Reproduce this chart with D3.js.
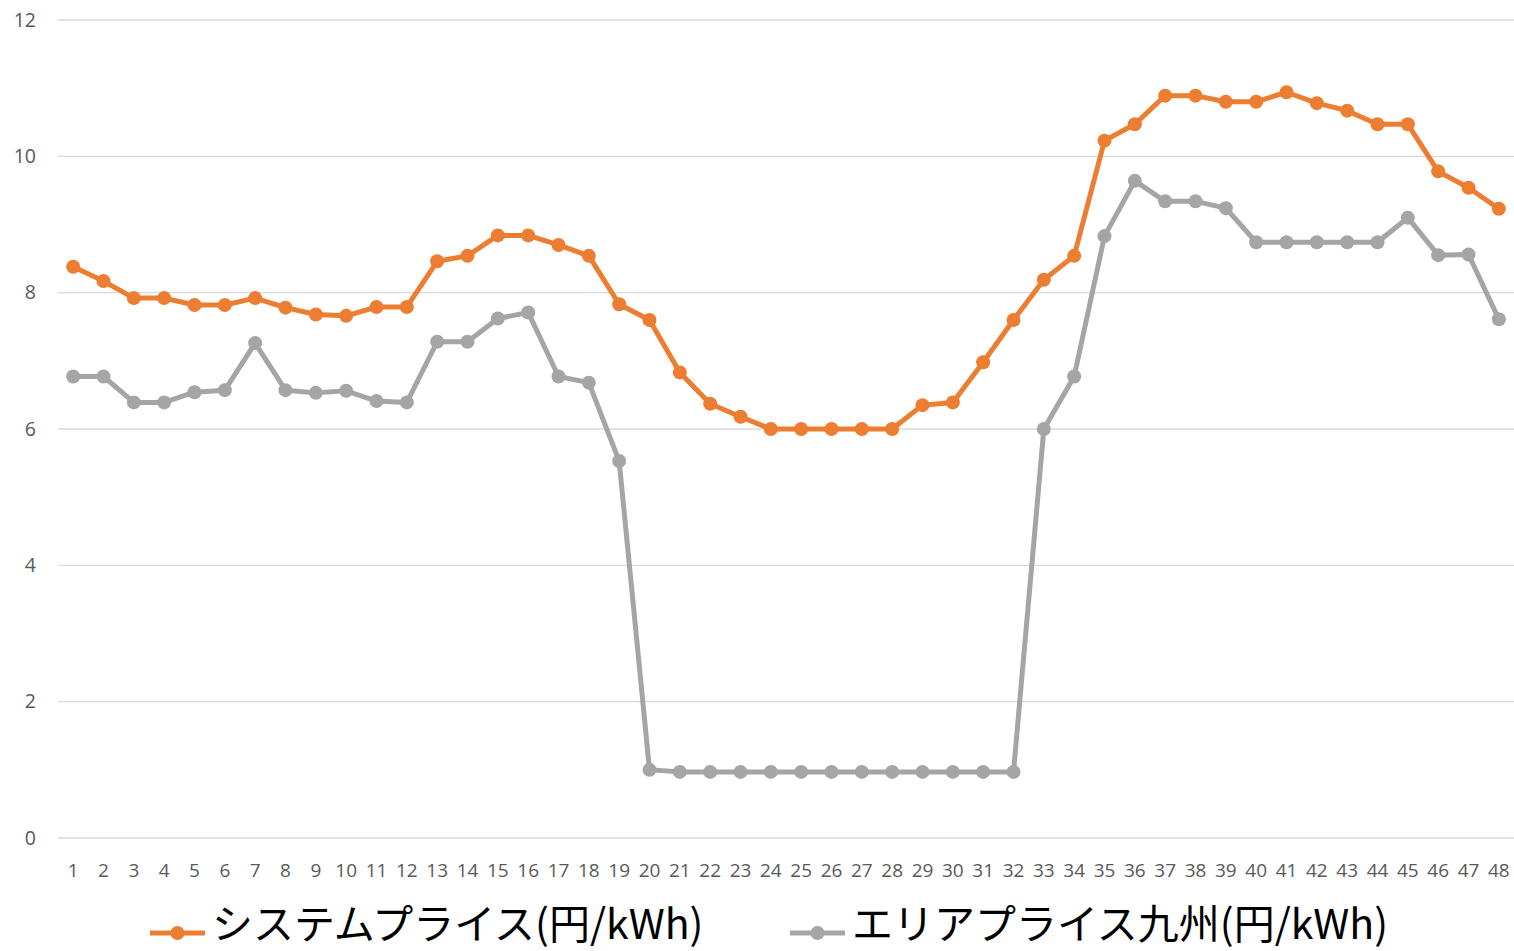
<!DOCTYPE html>
<html><head><meta charset="utf-8">
<script src="https://cdn.jsdelivr.net/npm/d3@7/dist/d3.min.js"></script>
<style>body{margin:0;background:#fff;overflow:hidden}</style>
</head><body>
<svg id="c" width="1514" height="951"></svg>
<script>
const periods = d3.range(1, 49).map(String);
const systemPrice = [8.38,8.17,7.92,7.92,7.82,7.82,7.92,7.78,7.68,7.66,7.79,7.79,
  8.46,8.54,8.84,8.84,8.70,8.54,7.83,7.60,6.83,6.37,6.18,6.00,6.00,6.00,6.00,6.00,
  6.35,6.39,6.98,7.60,8.19,8.54,10.23,10.47,10.89,10.89,10.80,10.80,10.94,10.78,
  10.67,10.47,10.47,9.78,9.54,9.23];
const areaPrice = [6.77,6.77,6.39,6.39,6.54,6.57,7.26,6.57,6.53,6.56,6.41,6.39,
  7.28,7.28,7.62,7.71,6.77,6.68,5.53,1.00,0.97,0.97,0.97,0.97,0.97,0.97,0.97,0.97,
  0.97,0.97,0.97,0.97,6.00,6.77,8.83,9.64,9.34,9.34,9.24,8.74,8.74,8.74,8.74,8.74,
  9.10,8.55,8.56,7.61];
const yTicks = [0,2,4,6,8,10,12];
const seriesNames = ["システムプライス(円/kWh)", "エリアプライス九州(円/kWh)"];
const colors = ["#ED7D31", "#A5A5A5"];

const svg = d3.select("#c");
const mLeft = 58, mRight = 1514, mTop = 20, mBottom = 838;
const x = d3.scaleBand().domain(periods).range([mLeft, mRight]);
const y = d3.scaleLinear().domain([0, 12]).range([mBottom, mTop]);

// gridlines
svg.append("g").selectAll("line").data(yTicks).join("line")
  .attr("x1", mLeft).attr("x2", mRight)
  .attr("y1", d => y(d)).attr("y2", d => y(d))
  .attr("stroke", "#d9d9d9").attr("stroke-width", 1.3);

// y labels
svg.append("g").selectAll("text").data(yTicks).join("text")
  .attr("x", 36).attr("y", d => y(d)).attr("dy", "0.35em")
  .attr("text-anchor", "end")
  .attr("font-family", "'Open Sans', sans-serif").attr("font-size", 19.5)
  .attr("fill", "#595959").text(d => d);

// x labels
svg.append("g").selectAll("text").data(periods).join("text")
  .attr("x", d => x(d) + x.bandwidth() / 2).attr("y", 870).attr("dy", "0.35em")
  .attr("text-anchor", "middle")
  .attr("font-family", "'Open Sans', sans-serif").attr("font-size", 19)
  .attr("fill", "#595959").text(d => d);

const cx = (d, i) => x(periods[i]) + x.bandwidth() / 2;
const line = d3.line().x(cx).y(d => y(d));

[systemPrice, areaPrice].forEach((vals, k) => {
  const g = svg.append("g");
  g.append("path").datum(vals).attr("d", line)
    .attr("fill", "none").attr("stroke", colors[k]).attr("stroke-width", 5)
    .attr("stroke-linejoin", "round");
  g.selectAll("circle").data(vals).join("circle")
    .attr("cx", cx).attr("cy", d => y(d)).attr("r", 7).attr("fill", colors[k]);
});

// legend
const legendX = [150, 790];
seriesNames.forEach((name, k) => {
  const g = svg.append("g").attr("transform", `translate(${legendX[k]},933)`);
  g.append("line").attr("x1", 0).attr("x2", 55).attr("y1", 0).attr("y2", 0)
    .attr("stroke", colors[k]).attr("stroke-width", 5);
  g.append("circle").attr("cx", 27.5).attr("cy", 0).attr("r", 7).attr("fill", colors[k]);
  g.append("text").attr("x", 62).attr("y", -9).attr("dy", "0.36em")
    .attr("font-family", "'Noto Sans CJK JP', sans-serif").attr("font-size", 41)
    .attr("fill", "#000").text(name);
});
</script>
</body></html>
